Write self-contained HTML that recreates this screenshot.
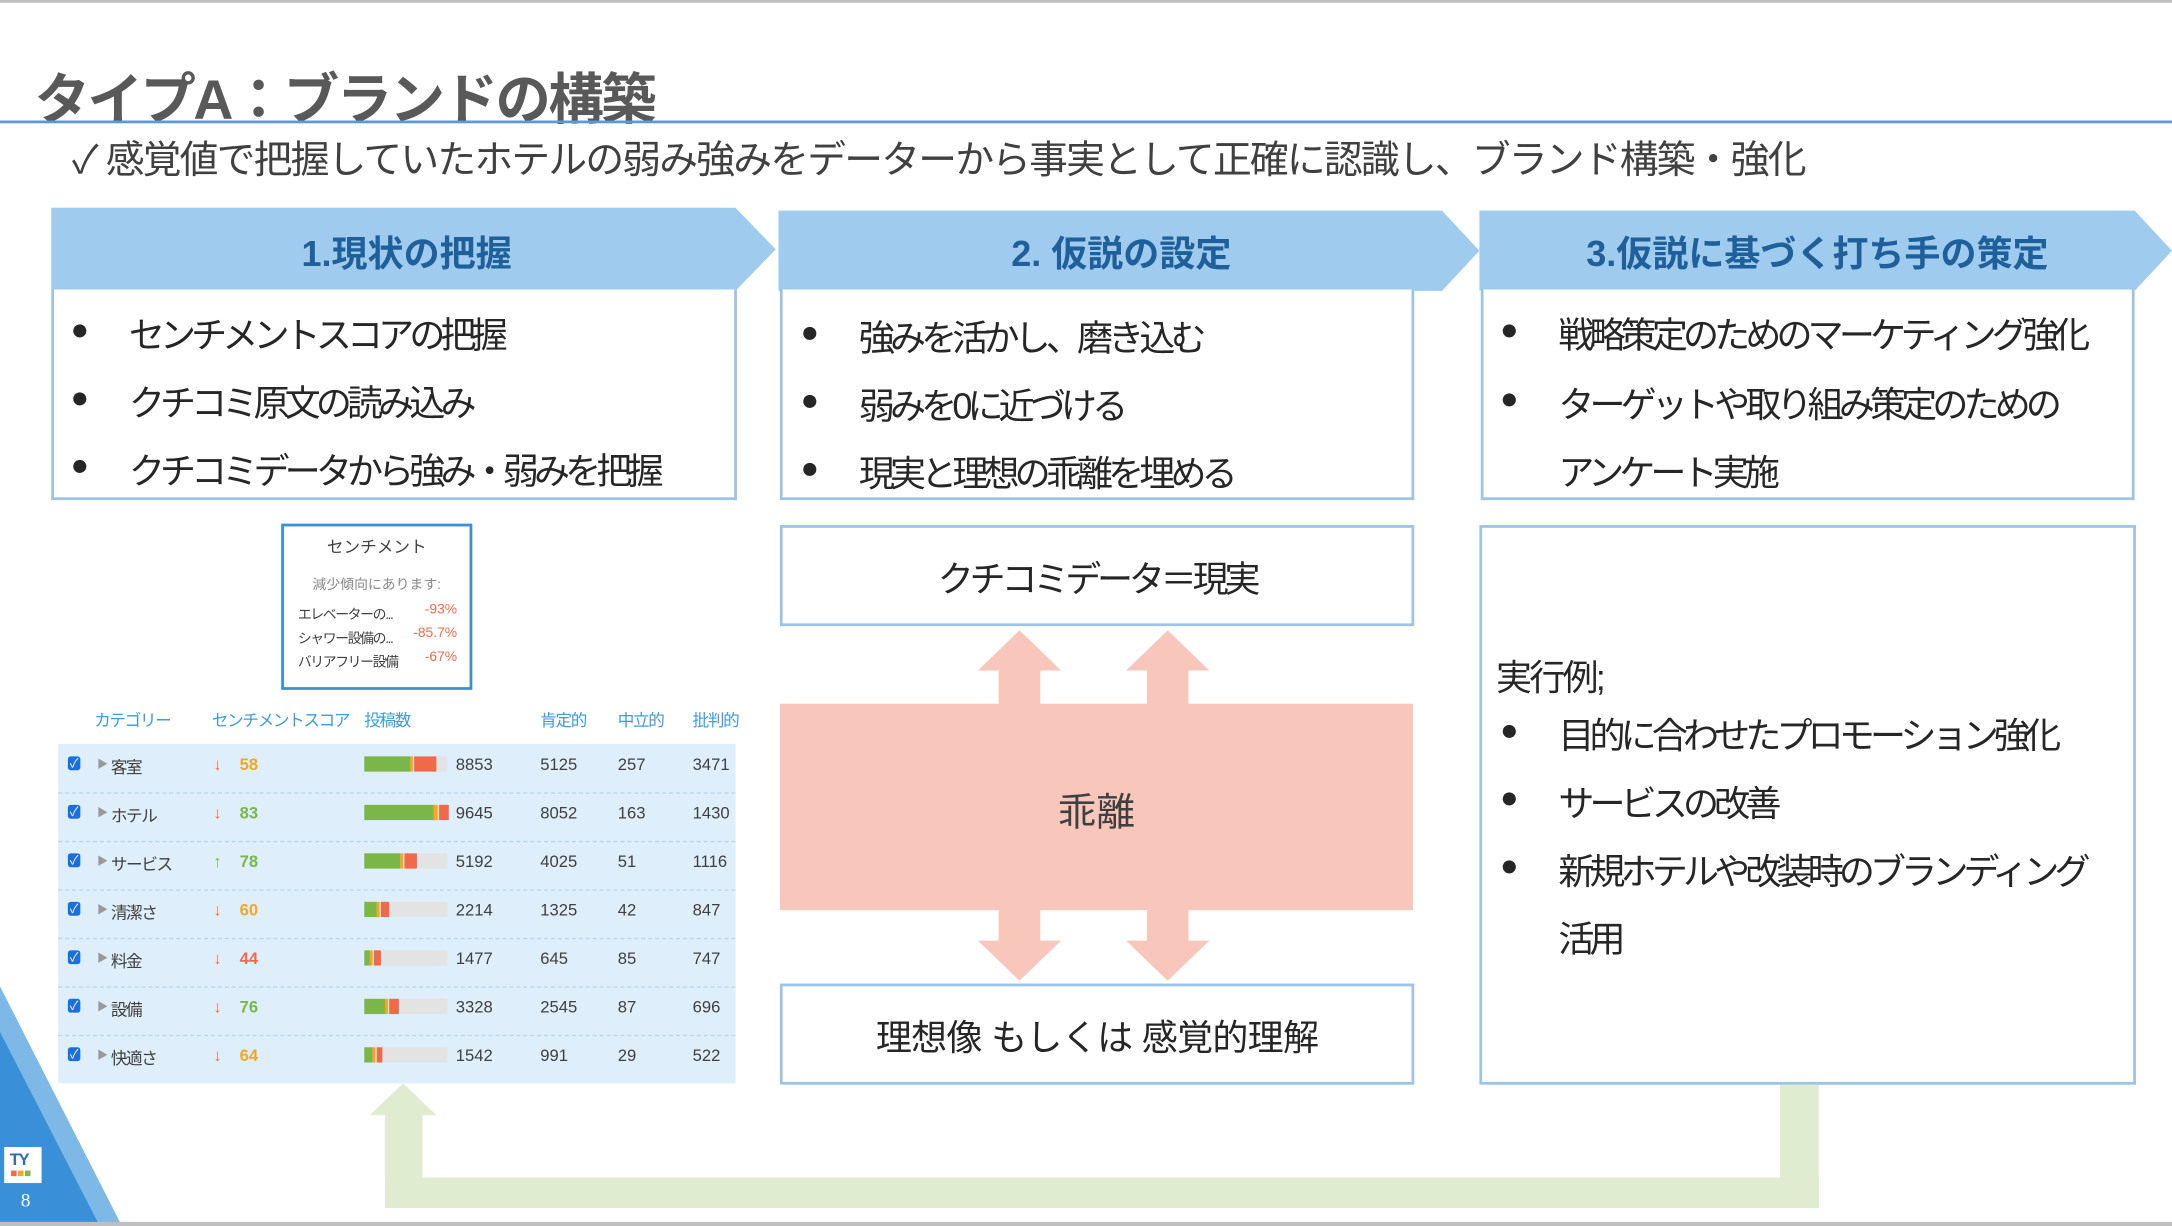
<!DOCTYPE html>
<html><head><meta charset="utf-8"><style>
*{margin:0;padding:0;box-sizing:border-box}
body{width:2172px;height:1226px;overflow:hidden;background:#fff;font-family:"Liberation Sans","Noto Sans CJK JP",sans-serif}
#s{position:absolute;left:0;top:0;width:1568px;height:885px;transform:scale(1.38520,1.38531);transform-origin:0 0;color:#262626}
.a{position:absolute;white-space:nowrap}
.box{position:absolute;border:2px solid #9dc3e6;background:#fff}
.hd{position:absolute;font-weight:bold;font-size:26px;color:#1f5f9a;text-align:center;top:163px}
.bl{position:absolute;font-size:26px;color:#262626;white-space:nowrap;letter-spacing:-3.5px}
.bl:before{content:"●";position:absolute;left:-42px;font-size:22px;top:3px;letter-spacing:0}
.t{position:absolute;font-size:12px;color:#404040;white-space:nowrap}
</style></head><body><div id="s">
<div class="a" style="left:0;top:0;width:1568px;height:2px;background:#bfbfbf"></div>
<div class="a" style="left:25px;top:40px;font-size:40px;font-weight:bold;color:#595959;letter-spacing:-1.8px">タイプA：ブランドの構築</div>
<div class="a" style="left:0;top:87px;width:1568px;height:1.5px;background:#5b9bd5"></div>
<div class="a" style="left:52px;top:94px;font-size:28px;color:#404040;letter-spacing:-1.3px">✓ 感覚値で把握していたホテルの弱み強みをデーターから事実として正確に認識し、ブランド構築・強化</div>

<svg class="a" style="left:0;top:0" width="1568" height="885">
<polygon points="37,150 531,150 560,180 531,210 37,210" fill="#9ecbee"/>
<polygon points="562,152 1041,152 1068,181 1041,210 562,210" fill="#9ecbee"/>
<polygon points="1068,152 1541,152 1568,181 1541,210 1068,210" fill="#9ecbee"/>
<polygon points="0,712 88,885 0,885" fill="#7db8e6"/>
<polygon points="0,745 72,885 0,885" fill="#3a90d8"/>
<g fill="#f8c6bb">
<polygon points="736,455 766,484 751,484 751,510 721,510 721,484 706,484"/>
<polygon points="843,455 873,484 858,484 858,510 828,510 828,484 813,484"/>
<polygon points="736,708 766,679 751,679 751,655 721,655 721,679 706,679"/>
<polygon points="843,708 873,679 858,679 858,655 828,655 828,679 813,679"/>
<rect x="563" y="508" width="457" height="149"/>
</g>
<g fill="#dfecd0">
<rect x="1285" y="782" width="28" height="90"/>
<rect x="278" y="850" width="1035" height="22"/>
<rect x="278" y="803" width="27" height="69"/>
<polygon points="291,782 315,805 267,805"/>
</g>
</svg>
<div class="a" style="left:0;top:882px;width:1568px;height:3px;background:#bfbfbf"></div>
<div class="a" style="left:3px;top:828px;width:27px;height:26px;background:#fff"></div>
<div class="a" style="left:7px;top:830px;font-size:12px;font-weight:bold;color:#2e6fb8;letter-spacing:-1px">TY</div>
<div class="a" style="left:8px;top:845px;width:4px;height:4px;background:#f06a4a"></div>
<div class="a" style="left:13px;top:845px;width:4px;height:4px;background:#f5a623"></div>
<div class="a" style="left:18px;top:845px;width:4px;height:4px;background:#7ab648"></div>
<div class="a" style="left:15px;top:860px;font-size:14px;color:#fff;font-family:'Liberation Serif',serif">8</div>

<div class="hd" style="left:37px;width:513px">1.現状の把握</div>
<div class="hd" style="left:562px;width:495px">2. 仮説の設定</div>
<div class="hd" style="left:1068px;width:488px">3.仮説に基づく打ち手の策定</div>

<div class="box" style="left:37px;top:209px;width:495px;height:152px;border-top:none"></div>
<div class="bl" style="left:93px;top:222px">センチメントスコアの把握</div>
<div class="bl" style="left:93px;top:271px">クチコミ原文の読み込み</div>
<div class="bl" style="left:93px;top:320px">クチコミデータから強み・弱みを把握</div>

<div class="box" style="left:563px;top:209px;width:458px;height:152px;border-top:none"></div>
<div class="bl" style="left:620px;top:224px">強みを活かし、磨き込む</div>
<div class="bl" style="left:620px;top:273px">弱みを0に近づける</div>
<div class="bl" style="left:620px;top:322px">現実と理想の乖離を埋める</div>

<div class="box" style="left:1069px;top:209px;width:472px;height:152px;border-top:none"></div>
<div class="bl" style="left:1125px;top:222px">戦略策定のためのマーケティング強化</div>
<div class="bl" style="left:1125px;top:272px">ターゲットや取り組み策定のための</div>
<div class="a" style="left:1125px;top:321px;font-size:26px;letter-spacing:-3.5px">アンケート実施</div>

<div class="box" style="left:563px;top:379px;width:458px;height:73px"></div>
<div class="a" style="left:563px;width:458px;text-align:center;top:398px;font-size:26px;letter-spacing:-3px">クチコミデータ＝現実</div>
<div class="a" style="left:563px;width:457px;text-align:center;top:565px;font-size:28px;color:#404040">乖離</div>
<div class="box" style="left:563px;top:710px;width:458px;height:73px"></div>
<div class="a" style="left:563px;width:458px;text-align:center;top:729px;font-size:26px;letter-spacing:-0.5px">理想像 もしくは 感覚的理解</div>

<div class="box" style="left:1068px;top:379px;width:474px;height:404px"></div>
<div class="a" style="left:1080px;top:469px;font-size:26px;letter-spacing:-2px">実行例;</div>
<div class="bl" style="left:1125px;top:511px">目的に合わせたプロモーション強化</div>
<div class="bl" style="left:1125px;top:560px">サービスの改善</div>
<div class="bl" style="left:1125px;top:609px">新規ホテルや改装時のブランディング</div>
<div class="a" style="left:1125px;top:658px;font-size:26px;letter-spacing:-3.5px">活用</div>

<div class="box" style="left:203px;top:378px;width:138px;height:120px;border-color:#3a8fd6"></div>
<div class="t" style="left:203px;width:138px;text-align:center;top:386px">センチメント</div>
<div class="t" style="left:203px;width:138px;text-align:center;top:413px;font-size:10px;color:#888">減少傾向にあります:</div>
<div class="t" style="left:215px;top:435px;font-size:10px;letter-spacing:-1px">エレベーターの...</div>
<div class="t" style="left:215px;top:452px;font-size:10px;letter-spacing:-1px">シャワー設備の...</div>
<div class="t" style="left:215px;top:469px;font-size:10px;letter-spacing:-1px">バリアフリー設備</div>
<div class="t" style="left:280px;width:50px;text-align:right;top:435px;font-size:10px;color:#f06a4a">-93%</div>
<div class="t" style="left:280px;width:50px;text-align:right;top:452px;font-size:10px;color:#f06a4a">-85.7%</div>
<div class="t" style="left:280px;width:50px;text-align:right;top:469px;font-size:10px;color:#f06a4a">-67%</div>

<div class="t" style="left:68px;top:511px;color:#3d9be0;letter-spacing:-1px">カテゴリー</div>
<div class="t" style="left:153px;top:511px;color:#3d9be0;letter-spacing:-1px">センチメントスコア</div>
<div class="t" style="left:263px;top:511px;color:#3d9be0;letter-spacing:-1px">投稿数</div>
<div class="t" style="left:390px;top:511px;color:#3d9be0;letter-spacing:-1px">肯定的</div>
<div class="t" style="left:446px;top:511px;color:#3d9be0;letter-spacing:-1px">中立的</div>
<div class="t" style="left:500px;top:511px;color:#3d9be0;letter-spacing:-1px">批判的</div>
<div class="a" style="left:42px;top:537px;width:489px;height:245px;background:#deeefa"></div>
<div id="rows"></div>
<script>
var d=[["客室","↓","58","#f5a623",33,2,16,8853,5125,257,3471],
["ホテル","↓","83","#7ab648",50,3,7,9645,8052,163,1430],
["サービス","↑","78","#7ab648",26,2,9,5192,4025,51,1116],
["清潔さ","↓","60","#f5a623",9,2,6,2214,1325,42,847],
["料金","↓","44","#f06a4a",4,2,5,1477,645,85,747],
["設備","↓","76","#7ab648",15,2,7,3328,2545,87,696],
["快適さ","↓","64","#f5a623",6,2,4,1542,991,29,522]];
var h="";
d.forEach(function(r,i){var y=537+i*35;var ty=y+9;
if(i>0)h+='<div class="a" style="left:42px;top:'+y+'px;width:489px;border-top:1px dashed #b9d8f0"></div>';
h+='<div class="a" style="left:49px;top:'+(ty)+'px;width:9px;height:10px;background:#1a6fe0;border-radius:2px;color:#fff;font-size:9px;line-height:10px;text-align:center">✓</div>';
h+='<div class="t" style="left:70px;top:'+ty+'px;font-size:8px;color:#999">▶</div>';
h+='<div class="t" style="left:80px;top:'+(ty-1)+'px;letter-spacing:-1px">'+r[0]+'</div>';
h+='<div class="t" style="left:154px;top:'+(ty-1)+'px;color:'+(r[1]=="↑"?"#7ab648":"#f06a4a")+'">'+r[1]+'</div>';
h+='<div class="t" style="left:173px;top:'+(ty-1)+'px;font-weight:bold;color:'+r[3]+'">'+r[2]+'</div>';
h+='<div class="a" style="left:263px;top:'+(ty)+'px;width:60px;height:11px;background:#e3e3e3"></div>';
h+='<div class="a" style="left:263px;top:'+(ty)+'px;width:'+r[4]+'px;height:11px;background:#7ab648"></div>';
h+='<div class="a" style="left:'+(263+r[4])+'px;top:'+(ty)+'px;width:'+r[5]+'px;height:11px;background:#f5a623"></div>';
h+='<div class="a" style="left:'+(263+r[4]+r[5]+1)+'px;top:'+(ty)+'px;width:'+r[6]+'px;height:11px;background:#f06a4a"></div>';
h+='<div class="t" style="left:329px;top:'+(ty-1)+'px">'+r[7]+'</div>';
h+='<div class="t" style="left:390px;top:'+(ty-1)+'px">'+r[8]+'</div>';
h+='<div class="t" style="left:446px;top:'+(ty-1)+'px">'+r[9]+'</div>';
h+='<div class="t" style="left:500px;top:'+(ty-1)+'px">'+r[10]+'</div>';});
document.getElementById("rows").outerHTML=h;
</script>
</div></body></html>
